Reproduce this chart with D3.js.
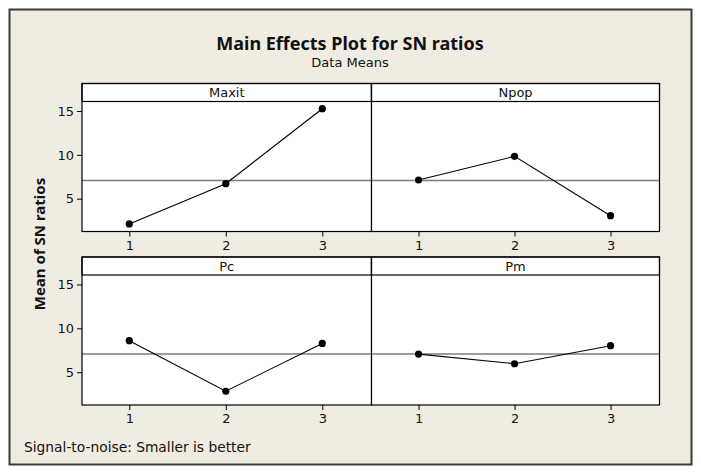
<!DOCTYPE html>
<html>
<head>
<meta charset="utf-8">
<script src="https://cdn.jsdelivr.net/npm/d3@7"></script>
<style>
  html, body { margin: 0; padding: 0; background: #ffffff; }
  svg { display: block; }
  text { font-family: "DejaVu Sans", "Noto Sans", sans-serif; fill: #111; }
  .bold { font-family: "Noto Sans", "DejaVu Sans", sans-serif; font-weight: bold; }
</style>
</head>
<body>
<svg width="701" height="474"></svg>
<script>
const svg = d3.select("svg");

// ---- data ----
const factors = ["Maxit", "Npop", "Pc", "Pm"];
const levels = [1, 2, 3];
const maxitMeans = [2.12, 6.71, 15.26];
const npopMeans = [7.13, 9.83, 3.06];
const pcMeans = [8.59, 2.83, 8.28];
const pmMeans = [7.06, 5.96, 8.02];
const grandMean = 7.06;
const yTicks = [5, 10, 15];

const series = [maxitMeans, npopMeans, pcMeans, pmMeans];

// ---- layout ----
const colEdges = [82, 371.5, 659.5];
const rowTops = [83.5, 257];
const headerH = 18;
const plotH = 130;
const fs = 13;

// outer frame
svg.append("rect")
    .attr("x", 9.5).attr("y", 9.5)
    .attr("width", 682).attr("height", 455)
    .attr("fill", "#f1ece2")
    .attr("stroke", "#3a3a3a")
    .attr("stroke-width", 2);

// titles
svg.append("text")
    .attr("class", "bold")
    .attr("x", 350).attr("y", 49.5)
    .attr("text-anchor", "middle")
    .attr("font-size", 18)
    .text("Main Effects Plot for SN ratios");

svg.append("text")
    .attr("x", 350).attr("y", 67)
    .attr("text-anchor", "middle")
    .attr("font-size", 13)
    .text("Data Means");

svg.append("text")
    .attr("class", "bold")
    .attr("transform", "translate(45,244) rotate(-90)")
    .attr("text-anchor", "middle")
    .attr("font-size", 15)
    .text("Mean of SN ratios");

svg.append("text")
    .attr("x", 24).attr("y", 451.5)
    .attr("font-size", 13.8)
    .text("Signal-to-noise: Smaller is better");

// ---- panels ----
factors.forEach((name, i) => {
    const col = i % 2;
    const row = Math.floor(i / 2);
    const x0 = colEdges[col], x1 = colEdges[col + 1];
    const top = rowTops[row];
    const plotTop = top + headerH;
    const plotBottom = plotTop + plotH;

    const x = d3.scaleLinear().domain([0.51, 3.51]).range([x0, x1]);
    const y = d3.scaleLinear().domain([1.26, 16.08]).range([plotBottom, plotTop]);

    const g = svg.append("g");

    // plot area
    g.append("rect")
        .attr("x", x0).attr("y", top)
        .attr("width", x1 - x0).attr("height", plotBottom - top)
        .attr("fill", "#ffffff");

    // reference line at the overall mean
    g.append("line")
        .attr("x1", x0).attr("x2", x1)
        .attr("y1", y(grandMean)).attr("y2", y(grandMean))
        .attr("stroke", "#7c7c7c")
        .attr("stroke-width", 1.5);

    const pts = levels.map((l, k) => ({ level: l, value: series[i][k] }));

    g.append("path")
        .datum(pts)
        .attr("d", d3.line().x(d => x(d.level)).y(d => y(d.value)))
        .attr("fill", "none")
        .attr("stroke", "#000")
        .attr("stroke-width", 1.1);

    g.selectAll("circle")
        .data(pts)
        .join("circle")
        .attr("cx", d => x(d.level))
        .attr("cy", d => y(d.value))
        .attr("r", 3.6)
        .attr("fill", "#000");

    // header strip
    g.append("rect")
        .attr("x", x0).attr("y", top)
        .attr("width", x1 - x0).attr("height", headerH)
        .attr("fill", "#ffffff")
        .attr("stroke", "#000")
        .attr("stroke-width", 1.2);

    g.append("text")
        .attr("x", (x0 + x1) / 2).attr("y", top + 13.5)
        .attr("text-anchor", "middle")
        .attr("font-size", fs)
        .text(name);

    // panel border
    g.append("rect")
        .attr("x", x0).attr("y", top)
        .attr("width", x1 - x0).attr("height", plotBottom - top)
        .attr("fill", "none")
        .attr("stroke", "#000")
        .attr("stroke-width", 1.2);

    // x axis
    const xAxis = g.append("g")
        .attr("transform", `translate(0,${plotBottom})`)
        .call(d3.axisBottom(x).tickValues(levels).tickFormat(d3.format("d")).tickSize(5).tickPadding(4));
    xAxis.select(".domain").remove();
    xAxis.selectAll("text").attr("font-size", fs).attr("font-family", null).attr("fill", "#111");

    // y axis only on the left column
    if (col === 0) {
        const yAxis = g.append("g")
            .attr("transform", `translate(${x0},0)`)
            .call(d3.axisLeft(y).tickValues(yTicks).tickSize(5).tickPadding(3));
        yAxis.select(".domain").remove();
        yAxis.selectAll("text").attr("font-size", fs).attr("font-family", null).attr("fill", "#111");
    }
});
</script>
</body>
</html>
